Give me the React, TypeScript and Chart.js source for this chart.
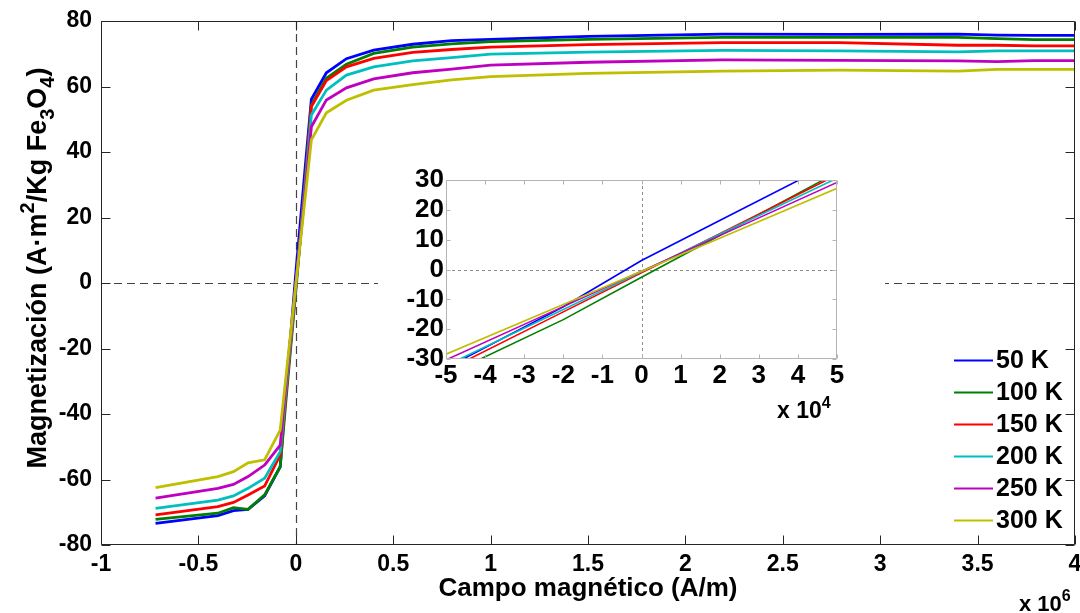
import React, { useEffect, useRef } from "react";
import { Chart, registerables } from "chart.js";

Chart.register(...registerables);

const FONT = '"Liberation Sans", Arial, Helvetica, sans-serif';

const seriesLabels = ["50 K", "100 K", "150 K", "200 K", "250 K", "300 K"];
const seriesColors = ["#0000ff", "#007f00", "#ff0000", "#00bfbf", "#bf00bf", "#bfbf00"];

// Applied field, x 10^6 A/m
const field = [-0.72, -0.4, -0.32, -0.245, -0.16, -0.08, -0.05, 0, 0.05, 0.08, 0.157, 0.26, 0.4, 0.6, 0.8, 1.0, 1.5, 2.19, 2.79, 3.4, 3.6, 3.79, 4.0];

// Magnetization, A·m²/kg Fe3O4
const mag50K = [-73.4, -71.0, -69.5, -69.1, -65.0, -56.1, -33.0, 3.0, 36.5, 56.1, 64.2, 68.5, 71.1, 72.9, 74.0, 74.4, 75.3, 76.0, 75.9, 76.0, 75.7, 75.6, 75.6];
const mag100K = [-72.2, -70.3, -68.6, -69.1, -64.7, -56.1, -35.5, -2.6, 32.5, 54.4, 62.5, 66.8, 70.1, 72.0, 73.0, 73.7, 74.4, 75.0, 75.0, 75.0, 74.6, 74.3, 74.3];
const mag150K = [-70.8, -68.3, -67.0, -64.7, -62.0, -52.5, -33.9, -1.1, 31.7, 53.9, 61.8, 66.0, 68.6, 70.4, 71.3, 72.0, 72.8, 73.4, 73.4, 72.6, 72.6, 72.4, 72.4];
const mag200K = [-68.8, -66.3, -65.0, -62.7, -59.6, -51.5, -32.2, -0.8, 30.6, 51.3, 58.9, 63.5, 66.0, 67.8, 68.8, 69.9, 70.5, 71.0, 70.9, 70.6, 70.9, 70.9, 70.9];
const mag250K = [-65.7, -62.7, -61.5, -59.1, -55.6, -49.5, -30.3, -0.55, 29.2, 47.7, 55.9, 59.6, 62.3, 64.2, 65.3, 66.5, 67.4, 68.1, 68.0, 67.8, 67.6, 67.9, 67.9];
const mag300K = [-62.5, -59.1, -57.6, -54.9, -54.0, -44.9, -28.4, -0.6, 27.2, 43.7, 52.0, 55.8, 58.9, 60.6, 62.0, 63.0, 64.0, 64.7, 65.0, 64.7, 65.2, 65.2, 65.2];

// Low-field detail, x 10^4 A/m
const fieldZoom = [-5, -2, 0, 2, 5];
const zoom50K = [-33.0, -12.5, 3.0, 16.4, 36.5];
const zoom100K = [-35.5, -16.8, -2.6, 11.4, 32.5];
const zoom150K = [-33.9, -14.2, -1.1, 12.0, 31.7];
const zoom200K = [-32.2, -13.4, -0.8, 11.8, 30.6];
const zoom250K = [-30.3, -12.45, -0.55, 11.35, 29.2];
const zoom300K = [-28.4, -11.7, -0.6, 10.5, 27.2];

const xTicksMain = [-1, -0.5, 0, 0.5, 1, 1.5, 2, 2.5, 3, 3.5, 4];
const yTicksMain = [-80, -60, -40, -20, 0, 20, 40, 60, 80];
const xTicksZoom = [-5, -4, -3, -2, -1, 0, 1, 2, 3, 4, 5];
const yTicksZoom = [-30, -20, -10, 0, 10, 20, 30];

const mainSeries = [mag50K, mag100K, mag150K, mag200K, mag250K, mag300K];
const zoomSeries = [zoom50K, zoom100K, zoom150K, zoom200K, zoom250K, zoom300K];

function buildDatasets(xs: number[], series: number[][], width: number) {
  return series.map((ys, i) => ({
    label: seriesLabels[i],
    data: xs.map((x, j) => ({ x, y: ys[j] })),
    borderColor: seriesColors[i],
    backgroundColor: seriesColors[i],
    borderWidth: width,
    pointRadius: 0,
    tension: 0,
    fill: false,
    order: series.length - i,
  }));
}

function drawFrame(chart: any, xt: number[], yt: number[], color: string, tickLen: number) {
  const { ctx, chartArea: a, scales } = chart;
  const L = Math.round(a.left) + 0.5;
  const R = Math.round(a.right) - 0.5;
  const T = Math.round(a.top) + 0.5;
  const B = Math.round(a.bottom) - 0.5;
  ctx.save();
  ctx.strokeStyle = color;
  ctx.lineWidth = 1;
  ctx.beginPath();
  ctx.rect(L, T, R - L, B - T);
  for (const v of xt) {
    const p = Math.round(scales.x.getPixelForValue(v)) + 0.5;
    ctx.moveTo(p, B);
    ctx.lineTo(p, B - tickLen);
    ctx.moveTo(p, T);
    ctx.lineTo(p, T + tickLen);
  }
  for (const v of yt) {
    const p = Math.round(scales.y.getPixelForValue(v)) + 0.5;
    ctx.moveTo(L, p);
    ctx.lineTo(L + tickLen, p);
    ctx.moveTo(R, p);
    ctx.lineTo(R - tickLen, p);
  }
  ctx.stroke();
  ctx.restore();
}

function drawZeroLines(chart: any, color: string, dash: number[], width: number) {
  const { ctx, chartArea: a, scales } = chart;
  const px = Math.round(scales.x.getPixelForValue(0)) + 0.5;
  const py = Math.round(scales.y.getPixelForValue(0)) + 0.5;
  ctx.save();
  ctx.strokeStyle = color;
  ctx.lineWidth = width;
  ctx.setLineDash(dash);
  ctx.beginPath();
  ctx.moveTo(a.left, py);
  ctx.lineTo(a.right, py);
  ctx.moveTo(px, a.top);
  ctx.lineTo(px, a.bottom);
  ctx.stroke();
  ctx.restore();
}

// Draws a run of text segments; shift > 0 is superscript, shift < 0 subscript
function drawRichText(ctx: CanvasRenderingContext2D, segs: { t: string; s: number }[], size: number, smallSize: number, cx: number, baseline: number, align: "center" | "left") {
  const fontOf = (s: number) => `bold ${s === 0 ? size : smallSize}px ${FONT}`;
  let total = 0;
  for (const seg of segs) {
    ctx.font = fontOf(seg.s);
    total += ctx.measureText(seg.t).width;
  }
  let x = align === "center" ? cx - total / 2 : cx;
  ctx.textAlign = "left";
  ctx.textBaseline = "alphabetic";
  for (const seg of segs) {
    ctx.font = fontOf(seg.s);
    const dy = seg.s > 0 ? -size * 0.45 : seg.s < 0 ? size * 0.3 : 0;
    ctx.fillText(seg.t, x, baseline + dy);
    x += ctx.measureText(seg.t).width;
  }
}

const mainDecor = {
  id: "mainDecor",
  beforeDatasetsDraw(chart: any) {
    drawZeroLines(chart, "#444444", [8, 5], 1.2);
  },
  afterDatasetsDraw(chart: any) {
    drawFrame(chart, xTicksMain, yTicksMain, "#262626", 9);
  },
  afterDraw(chart: any) {
    const ctx: CanvasRenderingContext2D = chart.ctx;
    ctx.save();
    ctx.fillStyle = "#000";
    // x-axis title
    ctx.font = `bold 26px ${FONT}`;
    ctx.textAlign = "center";
    ctx.textBaseline = "alphabetic";
    ctx.fillText("Campo magnético (A/m)", 588, 596);
    // exponent of the x axis
    drawRichText(ctx, [{ t: "x 10", s: 0 }, { t: "6", s: 1 }], 22, 16, 1019, 611, "left");
    // y-axis title
    ctx.save();
    ctx.translate(46, 268);
    ctx.rotate(-Math.PI / 2);
    drawRichText(
      ctx,
      [
        { t: "Magnetización (A·m", s: 0 },
        { t: "2", s: 1 },
        { t: "/Kg Fe", s: 0 },
        { t: "3", s: -1 },
        { t: "O", s: 0 },
        { t: "4", s: -1 },
        { t: ")", s: 0 },
      ],
      27,
      20,
      0,
      0,
      "center"
    );
    ctx.restore();
    // legend
    const rowY = [360, 392, 424, 456, 488, 520];
    ctx.font = `bold 25px ${FONT}`;
    ctx.textAlign = "left";
    ctx.textBaseline = "middle";
    seriesLabels.forEach((lab, i) => {
      ctx.strokeStyle = seriesColors[i];
      ctx.lineWidth = 2;
      ctx.beginPath();
      ctx.moveTo(954, rowY[i] + 0.5);
      ctx.lineTo(993, rowY[i] + 0.5);
      ctx.stroke();
      ctx.fillStyle = "#000";
      ctx.fillText(lab, 996, rowY[i] + 1);
    });
    ctx.restore();
  },
};

const zoomDecor = {
  id: "zoomDecor",
  beforeDraw(chart: any) {
    const ctx = chart.ctx;
    ctx.save();
    ctx.fillStyle = "#ffffff";
    ctx.fillRect(0, 0, chart.width, chart.height);
    ctx.restore();
  },
  beforeDatasetsDraw(chart: any) {
    drawZeroLines(chart, "#8c8c8c", [3, 3], 1);
  },
  afterDatasetsDraw(chart: any) {
    drawFrame(chart, xTicksZoom, yTicksZoom, "#b4b4b4", 4);
  },
  afterDraw(chart: any) {
    const ctx: CanvasRenderingContext2D = chart.ctx;
    ctx.save();
    ctx.fillStyle = "#000";
    drawRichText(ctx, [{ t: "x 10", s: 0 }, { t: "4", s: 1 }], 23, 16, 399, 253, "left");
    ctx.restore();
  },
};

function axisOptions(
  min: number,
  max: number,
  values: number[],
  fontSize: number,
  padding: number,
  isX: boolean,
  size: number
) {
  return {
    type: "linear" as const,
    min,
    max,
    grid: { display: false, drawTicks: false },
    border: { display: false },
    afterBuildTicks: (s: any) => {
      s.ticks = values.map((value) => ({ value }));
    },
    afterFit: (s: any) => {
      if (isX) s.height = size;
      else s.width = size;
      s.paddingLeft = 0;
      s.paddingRight = 0;
      s.paddingTop = 0;
      s.paddingBottom = 0;
    },
    ticks: {
      color: "#000",
      font: { family: FONT, size: fontSize, weight: "bold" as const },
      padding,
      maxRotation: 0,
      minRotation: 0,
      autoSkip: false,
      callback: (v: any) => String(v),
    },
  };
}

export default function App() {
  const mainRef = useRef<HTMLCanvasElement>(null);
  const zoomRef = useRef<HTMLCanvasElement>(null);

  useEffect(() => {
    const main = new Chart(mainRef.current as HTMLCanvasElement, {
      type: "line",
      data: { datasets: buildDatasets(field, mainSeries, 2.8) as any },
      options: {
        animation: false,
        responsive: false,
        devicePixelRatio: 1,
        events: [],
        layout: { padding: { left: 0, right: 5, top: 21, bottom: 0 } },
        plugins: { legend: { display: false }, tooltip: { enabled: false } },
        scales: {
          x: axisOptions(-1, 4, xTicksMain, 23, 6, true, 68) as any,
          y: axisOptions(-80, 80, yTicksMain, 23, 9, false, 101) as any,
        },
      },
      plugins: [mainDecor],
    });

    const zoom = new Chart(zoomRef.current as HTMLCanvasElement, {
      type: "line",
      data: { datasets: buildDatasets(fieldZoom, zoomSeries, 1.6) as any },
      options: {
        animation: false,
        responsive: false,
        devicePixelRatio: 1,
        events: [],
        layout: { padding: { left: 0, right: 48, top: 15, bottom: 0 } },
        plugins: { legend: { display: false }, tooltip: { enabled: false } },
        scales: {
          x: axisOptions(-5, 5, xTicksZoom, 26, 1, true, 66) as any,
          y: axisOptions(-30, 30, yTicksZoom, 26, 2, false, 68) as any,
        },
      },
      plugins: [zoomDecor],
    });

    return () => {
      main.destroy();
      zoom.destroy();
    };
  }, []);

  return (
    <div style={{ position: "fixed", left: 0, top: 0, width: 1080, height: 613, background: "#ffffff", overflow: "hidden" }}>
      <canvas ref={mainRef} width={1080} height={613} style={{ position: "absolute", left: 0, top: 0 }} />
      <canvas ref={zoomRef} width={507} height={260} style={{ position: "absolute", left: 378, top: 165 }} />
    </div>
  );
}
